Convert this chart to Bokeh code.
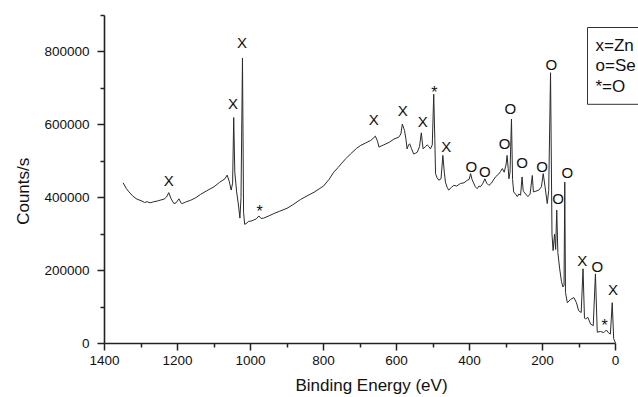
from bokeh.plotting import figure
from bokeh.models import Range1d, FixedTicker, NumeralTickFormatter, Label
from bokeh.core.properties import value
from bokeh.embed import file_html
from bokeh.resources import INLINE

# XPS survey spectrum (binding energy in eV, counts/s)
binding_energy = [
    1349, 1340, 1333, 1322, 1311, 1300, 1290, 1283, 1275, 1265, 1255, 1245, 1237, 1230, 1224,
    1218, 1210, 1204, 1196, 1190, 1187, 1178, 1164, 1150, 1137, 1120, 1100, 1085, 1070, 1064,
    1058, 1053, 1049, 1046, 1043, 1038, 1033, 1029, 1026, 1022, 1019, 1016, 1012, 1005, 998,
    991, 984, 977, 971, 964, 950, 935, 920, 900, 885, 863, 845, 826, 800, 785, 772, 760, 750,
    738, 726, 710, 699, 685, 671, 665, 658, 652, 648, 642, 635, 620, 607, 594, 588, 584, 580,
    578, 574, 571, 567, 564, 559, 553, 548, 543, 537, 532, 529, 527, 521, 516, 511, 507, 502,
    498, 495, 493, 489, 484, 478, 473, 469, 466, 461, 457, 450, 443, 435, 425, 415, 406, 401,
    397, 393, 390, 384, 379, 374, 370, 363, 358, 353, 347, 340, 329, 320, 315, 310, 305, 300,
    297, 294, 292, 289, 285, 282, 279, 274, 269, 265, 260, 256, 253, 251, 246, 240, 234, 228,
    225, 218, 210, 203, 198, 193, 187, 183, 178, 174, 171, 167, 164, 161, 158, 153, 148, 144,
    141, 139, 137, 132, 123, 114, 107, 101, 94, 89, 85, 82, 76, 68, 61, 55, 50, 41, 32, 25,
    18, 14, 9, 5, 0,
]
counts = [
    441000, 425000, 416000, 404000, 396000, 392000, 387000, 389000, 386000, 389000, 391000,
    394000, 396000, 402000, 414000, 398000, 384000, 386000, 397000, 385000, 384000, 388000,
    393000, 400000, 409000, 419000, 430000, 442000, 452000, 462000, 444000, 421000, 440000,
    620000, 470000, 416000, 380000, 344000, 400000, 783000, 360000, 327000, 329000, 335000,
    336000, 339000, 342000, 350000, 343000, 344000, 350000, 357000, 363000, 371000, 380000,
    395000, 405000, 415000, 432000, 450000, 470000, 483000, 495000, 508000, 520000, 535000,
    543000, 550000, 557000, 562000, 569000, 555000, 539000, 542000, 545000, 552000, 561000,
    566000, 575000, 602000, 590000, 584000, 560000, 534000, 545000, 548000, 535000, 520000,
    522000, 525000, 540000, 578000, 550000, 534000, 540000, 545000, 540000, 534000, 545000,
    684000, 560000, 466000, 455000, 448000, 452000, 516000, 470000, 443000, 428000, 421000,
    428000, 434000, 432000, 439000, 441000, 448000, 450000, 466000, 450000, 443000, 430000,
    425000, 432000, 430000, 440000, 452000, 440000, 434000, 440000, 457000, 465000, 472000,
    480000, 470000, 490000, 516000, 480000, 452000, 470000, 616000, 450000, 416000, 410000,
    403000, 410000, 407000, 457000, 420000, 416000, 410000, 403000, 410000, 461000, 416000,
    418000, 421000, 430000, 466000, 430000, 384000, 420000, 743000, 300000, 255000, 300000,
    258000, 366000, 250000, 205000, 170000, 155000, 160000, 443000, 140000, 112000, 121000,
    126000, 112000, 90000, 85000, 205000, 70000, 67000, 72000, 53000, 49000, 191000, 31000,
    33000, 30000, 37000, 28000, 26000, 112000, 13000, 1000,
]

# peak markers
zn_be = [1224, 1048, 1023, 662, 583, 528, 464, 91, 7]
zn_counts = [448000, 658000, 826000, 614000, 638000, 608000, 541000, 227000, 149000]
se_be = [395, 358, 304, 288, 256, 201, 176, 157, 132, 50]
se_counts = [487000, 471000, 550000, 646000, 498000, 486000, 765000, 398000, 468000, 212000]
ox_be = [975, 496, 30]
ox_counts = [374000, 699000, 61000]

x_major = [0, 200, 400, 600, 800, 1000, 1200, 1400]
x_minor = [100, 300, 500, 700, 900, 1100, 1300]
y_major = [0, 200000, 400000, 600000, 800000]
y_minor = [100000, 300000, 500000, 700000, 900000]

FONT = "Liberation Sans"

p = figure(width=638, height=397, output_backend="svg", toolbar_location=None,
           x_range=Range1d(1400, -63), y_range=Range1d(0, 900000),
           min_border_left=104, min_border_right=0, min_border_top=15, min_border_bottom=51)
p.outline_line_color = None
p.grid.visible = False
p.background_fill_color = "white"
p.border_fill_color = "white"

p.line(binding_energy, counts, line_color="#2a2a2a", line_width=1)

p.text(zn_be, zn_counts, text=value("X"), text_align="center", text_baseline="middle",
       text_font=value(FONT), text_font_size="15px", text_color="#111")
p.text(se_be, se_counts, text=value("O"), text_align="center", text_baseline="middle",
       text_font=value(FONT), text_font_size="15px", text_color="#111")
p.text(ox_be, ox_counts, text=value("*"), text_align="center", text_baseline="middle",
       y_offset=4, text_font=value(FONT), text_font_size="16px", text_color="#111")

for ax in (p.xaxis[0], p.yaxis[0]):
    ax.axis_line_width = 1.6
    ax.axis_line_color = "#222"
    ax.major_tick_line_width = 1.5
    ax.minor_tick_line_width = 1.5
    ax.major_tick_line_color = "#222"
    ax.minor_tick_line_color = "#222"
    ax.major_tick_in = 0
    ax.major_tick_out = 7
    ax.minor_tick_in = 0
    ax.minor_tick_out = 4
    ax.major_label_text_font = FONT
    ax.major_label_text_font_size = "13.5px"
    ax.major_label_text_color = "#111"
    ax.axis_label_text_font = FONT
    ax.axis_label_text_font_size = "17px"
    ax.axis_label_text_font_style = "normal"
    ax.axis_label_text_color = "#111"

p.xaxis.bounds = (0, 1400)
p.yaxis.bounds = (0, 900000)
p.xaxis.ticker = FixedTicker(ticks=x_major, minor_ticks=x_minor)
p.yaxis.ticker = FixedTicker(ticks=y_major, minor_ticks=y_minor)
p.yaxis.formatter = NumeralTickFormatter(format="0")
p.xaxis.axis_label = "Binding Energy (eV)"
p.yaxis.axis_label = "Counts/s" + "\u00a0" * 5
p.xaxis.major_label_standoff = 5
p.xaxis.axis_label_standoff = 8
p.yaxis.major_label_standoff = 8
p.yaxis.axis_label_standoff = 8

legend = Label(x=483, y=316, x_units="screen", y_units="screen", anchor="top_left",
               text="x=Zn\no=Se\n*=O", text_font=FONT, text_font_size="17px",
               text_color="#111", text_line_height=1.1,
               border_line_color="#333", border_line_width=1,
               background_fill_color="white", padding=8)
p.add_layout(legend)

open("out.html", "w").write(file_html(p, INLINE))
